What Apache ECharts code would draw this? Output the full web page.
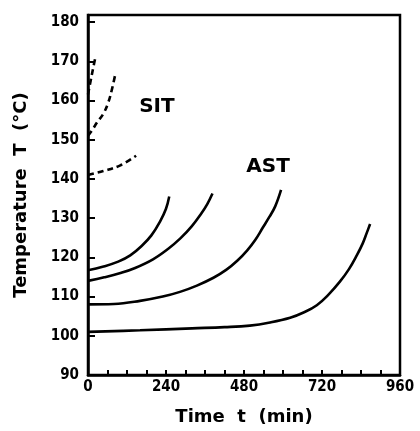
<!DOCTYPE html>
<html><head><meta charset="utf-8">
<script src="https://cdn.jsdelivr.net/npm/echarts@6/dist/echarts.min.js"></script>
<style>html,body{margin:0;padding:0;background:#fff}#c{width:420px;height:431px}</style>
</head><body><div id="c"></div>
<script>
// Time t (min), Temperature T (°C)
const astA = [[0,116.7],[45,117.6],[93,118.9],[130,120.5],[165,122.9],[195,125.6],[222,129.2],[240,132.4],[250,135.5]];
const astB = [[0,114.0],[50,114.9],[100,116.0],[145,117.3],[200,119.5],[247,122.2],[285,124.9],[319,127.9],[347,131.0],[367,133.6],[383,136.3]];
const astC = [[0,108.0],[80,108.1],[160,108.9],[230,110.0],[283,111.2],[335,112.8],[386,114.8],[425,116.8],[460,119.2],[490,121.8],[515,124.5],[538,127.6],[558,130.3],[576,133.0],[594,137.2]];
const astD = [[0,101.0],[160,101.4],[320,101.9],[420,102.2],[498,102.6],[560,103.4],[622,104.6],[665,106.0],[704,107.8],[740,110.5],[775,113.8],[803,117.0],[827,120.5],[845,123.5],[858,126.3],[868,128.5]];
const sit1 = [[0,161.5],[8,165.0],[16,168.3],[24,171.5]];
const sit2 = [[0,151.0],[14,152.6],[27,154.3],[47,156.6],[62,159.4],[73,162.6],[83,166.3]];
const sit3 = [[0,141.0],[47,142.0],[98,143.4],[148,145.9]];
const annotations = [['SIT',212,158.5],['AST',554,143.2]];
const xLabels = [0,240,480,720,960];

const FONT = 'DejaVu Sans';
const solid = d => ({type:'line', data:d, smooth:0.4, showSymbol:false,
  lineStyle:{color:'#000', width:2.6}, silent:true});
const dashed = d => ({type:'line', data:d, smooth:0.4, showSymbol:false,
  lineStyle:{color:'#000', width:2.6, type:[6,4]}, silent:true});

const chart = echarts.init(document.getElementById('c'));
chart.setOption({
  animation:false,
  grid:{left:88, right:20, top:15, bottom:54, show:true, borderColor:'#000', borderWidth:2.5},
  xAxis:{type:'value', min:0, max:960, interval:60,
    name:'Time  t  (min)', nameLocation:'middle', nameGap:33,
    nameTextStyle:{fontFamily:FONT, fontWeight:'bold', fontSize:18, color:'#000'},
    axisLine:{lineStyle:{color:'#000', width:2.5}},
    axisTick:{inside:true, length:5, lineStyle:{color:'#000', width:2}},
    splitLine:{show:false},
    axisLabel:{margin:5, color:'#000', fontFamily:'DejaVu Sans Condensed', fontWeight:'bold', fontSize:15,
      formatter:v => xLabels.includes(v) ? String(v) : ''}},
  yAxis:{type:'value', min:90, max:181.8, interval:10,
    name:'Temperature  T  (°C)', nameLocation:'middle', nameGap:58,
    nameTextStyle:{fontFamily:FONT, fontWeight:'bold', fontSize:18, color:'#000'},
    axisLine:{lineStyle:{color:'#000', width:2.5}},
    axisTick:{inside:true, length:7, lineStyle:{color:'#000', width:2}},
    splitLine:{show:false},
    axisLabel:{margin:9, showMaxLabel:false, color:'#000', fontFamily:'DejaVu Sans Condensed', fontWeight:'bold', fontSize:15}},
  series:[
    solid(astA), solid(astB), solid(astC), solid(astD),
    dashed(sit1), dashed(sit2), dashed(sit3),
    {type:'scatter', data:annotations.map(a=>({value:[a[1],a[2]], name:a[0]})), symbolSize:1, silent:true,
     itemStyle:{opacity:1, color:'rgba(0,0,0,0)'},
     label:{show:true, position:'inside', formatter:p=>p.name, color:'#000', opacity:1,
       fontFamily:FONT, fontWeight:'bold', fontSize:20}}
  ]
});
</script></body></html>
